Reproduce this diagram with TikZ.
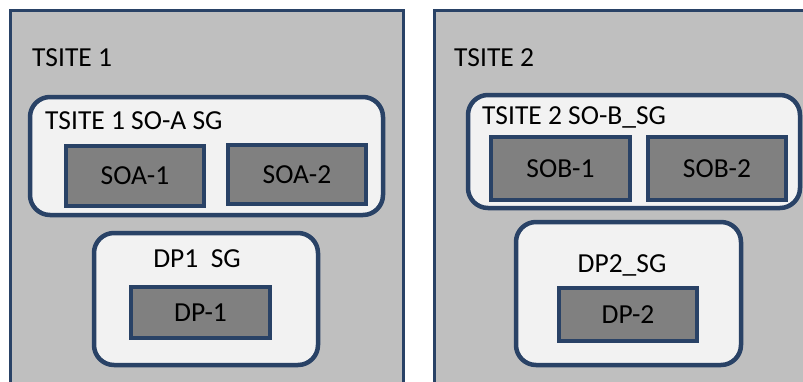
\documentclass[tikz,border=0pt]{standalone}
\usepackage{fontspec}
\setmainfont{Carlito}
\usepackage{tikz}
\usetikzlibrary{positioning}
\usepackage{xcolor}
\definecolor{sblue}{RGB}{41,66,102}
\definecolor{sgrey}{RGB}{191,191,191}
\definecolor{slight}{RGB}{242,242,242}
\definecolor{sdark}{RGB}{128,128,128}

\begin{document}
\begin{tikzpicture}[x=1pt,y=-1pt,
  site/.style={draw=sblue,line width=3pt,fill=sgrey,inner sep=0pt},
  sgbox/.style={draw=sblue,line width=4.5pt,fill=slight,rounded corners=20pt,inner sep=0pt},
  unit/.style={draw=sblue,line width=4.5pt,fill=sdark,inner sep=0pt,
               font=\fontsize{27.5}{32}\selectfont},
  lbl/.style={font=\fontsize{27.5}{32}\selectfont,inner sep=0pt}
]
\useasboundingbox (0,0) rectangle (803,381);
\clip (0,0) rectangle (803,381);
\fill[white] (0,0) rectangle (803,381);
% sites
\node[site,minimum width=393pt,minimum height=400pt] (site1) at (206.5,210) {};
\node[site,minimum width=396pt,minimum height=400pt] (site2) at (632,210) {};
\node[lbl,anchor=west] (site1lbl) at (32,58) {TSITE 1};
\node[lbl,anchor=west] (site2lbl) at (454,58) {TSITE 2};
% service groups
\node[sgbox,minimum width=353pt,minimum height=118pt] (soasg) at (206.5,156) {};
\node[sgbox,minimum width=224pt,minimum height=132pt] (dp1sg) at (206,299) {};
\node[sgbox,minimum width=332pt,minimum height=113pt] (sobsg) at (634,151.5) {};
\node[sgbox,minimum width=225pt,minimum height=143pt] (dp2sg) at (628.5,293.5) {};
\node[lbl,anchor=west] (soasglbl) at (45,121) {TSITE 1 SO-A SG};
\node[lbl] (dp1sglbl) at (197,259) {DP1~~SG};
\node[lbl,anchor=west] (sobsglbl) at (482,117) {TSITE 2 SO-B\_SG};
\node[lbl] (dp2sglbl) at (622,265) {DP2\_SG};
% units
\node[unit,minimum width=138pt,minimum height=60pt] (soa1) at (135,176) {SOA-1};
\node[unit,minimum width=138pt,minimum height=59pt] (soa2) at (297,174.5) {SOA-2};
\node[unit,minimum width=139pt,minimum height=51pt] (dp1) at (200.5,312.5) {DP-1};
\node[unit,minimum width=139pt,minimum height=63pt] (sob1) at (560.5,168.5) {SOB-1};
\node[unit,minimum width=138pt,minimum height=63pt] (sob2) at (717,168.5) {SOB-2};
\node[unit,minimum width=138pt,minimum height=53pt] (dp2) at (628,314.5) {DP-2};
\end{tikzpicture}
\end{document}
